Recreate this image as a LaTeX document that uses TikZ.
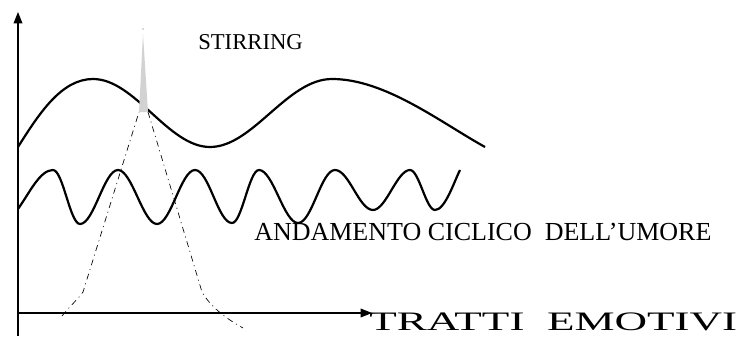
\documentclass[tikz,border=0pt]{standalone}
\usepackage{fontspec}
\setmainfont{Liberation Serif}
\usetikzlibrary{arrows.meta,positioning}
\tikzset{
  axisline/.style={line width=1pt, -{Triangle[length=8.5pt, width=6.5pt]}},
  wave/.style={line width=1.65pt, line join=round},
  stirline/.style={line width=0.5pt, dash pattern=on 4.5pt off 3pt on 0.75pt off 3pt},
  lbl/.style={inner sep=0pt, anchor=base west}
}
\begin{document}
\begin{tikzpicture}[x=0.75pt, y=-0.75pt]
  \useasboundingbox (0,0) rectangle (743,336);
  % axes
  \coordinate (origin) at (18,313);
  \coordinate (ytop) at (18,12);
  \coordinate (xend) at (372,313);
  \draw[axisline] (18,336) -- (ytop);
  \draw[axisline] (origin) -- (xend);
  % slow wave
  \draw[wave] (18,147) .. controls (40,112) and (62,79) .. (93,79)
    .. controls (135,79) and (168,147) .. (210,147)
    .. controls (253,147) and (287,79) .. (332,79)
    .. controls (385,79) and (440,122) .. (485,147);
  % fast wave
  \draw[wave] (18,209) .. controls (30,192) and (40,170) .. (53,170)
    .. controls (63,170) and (70,224) .. (80,224)
    .. controls (94,224) and (104,170) .. (118,170)
    .. controls (132,170) and (143,224) .. (157,224)
    .. controls (171,224) and (181,170) .. (195,170)
    .. controls (209,170) and (218,223) .. (232,223)
    .. controls (242,223) and (249,170) .. (259,170)
    .. controls (273,170) and (284,223) .. (298,223)
    .. controls (312,223) and (321,170) .. (335,170)
    .. controls (349,170) and (359,210) .. (373,210)
    .. controls (386,210) and (397,170) .. (410,170)
    .. controls (419,170) and (426,210) .. (435,210)
    .. controls (445,210) and (454,182) .. (460,170);
  % stirring peak
  \fill[gray!35] (143,34) -- (139,112) -- (148,112) -- cycle;
  \fill[gray!60] (143,29) circle (0.8);
  \draw[stirline] (62,316) .. controls (72,304) and (78,299) .. (83,292) -- (139,112);
  \draw[stirline] (148,112) -- (202,292) .. controls (210,306) and (225,318) .. (243,328);
  % labels
  \node[lbl, font=\fontsize{17}{17}\selectfont] (stirring) at (198,49) {STIRRING};
  \node[lbl, font=\fontsize{19.5}{19.5}\selectfont] (umore) at (254,240) {ANDAMENTO CICLICO\ \ DELL'UMORE};
  \node[lbl, font=\fontsize{20}{20}\selectfont] (tratti) at (369,330) {\scalebox{1.69}[1]{TRATTI\ \ EMOTIVI}};
\end{tikzpicture}
\end{document}
